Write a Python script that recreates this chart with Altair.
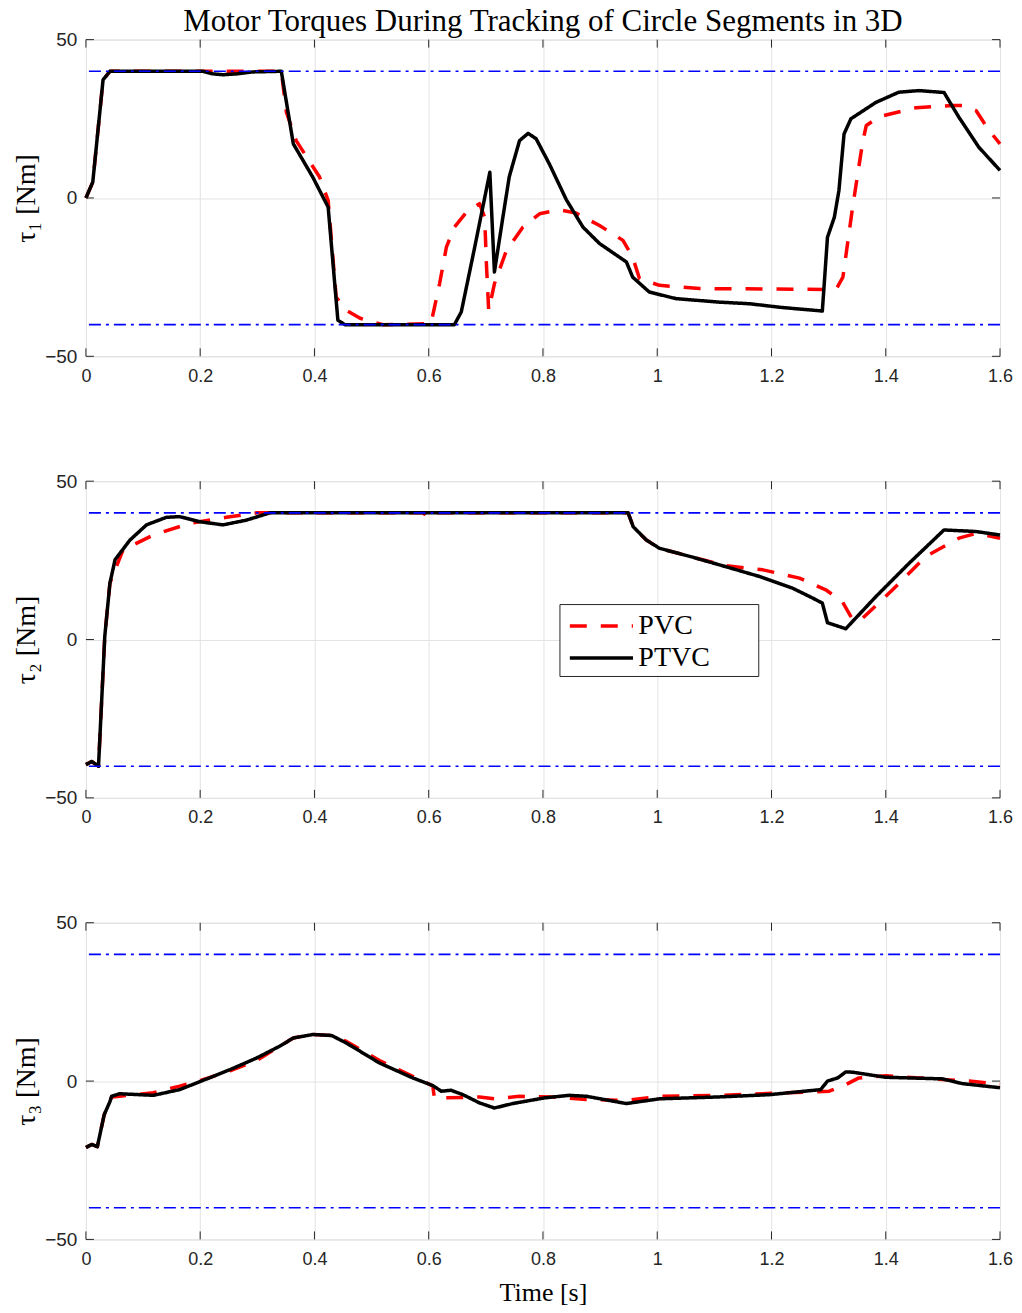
import altair as alt
import pandas as pd

# ---------------- data ----------------
t1_pvc = [0, 0.012, 0.030, 0.042, 0.205, 0.240, 0.290, 0.342, 0.351, 0.368, 0.409, 0.424, 0.438, 0.456, 0.480, 0.503, 0.520,
          0.604, 0.619, 0.631, 0.645, 0.666, 0.689, 0.698, 0.701, 0.705, 0.715, 0.736, 0.765, 0.794, 0.829, 0.858,
          0.899, 0.940, 0.957, 0.969, 1.004, 1.074, 1.313, 1.325, 1.342, 1.360, 1.366, 1.389, 1.453, 1.517, 1.534,
          1.558, 1.581, 1.600]
v1_pvc = [0, 5, 37.3, 40, 40, 40, 40, 40, 27, 18.1, 6.6, -0.8, -31.3, -35.5, -38, -39.2, -40,
          -39.7, -27.1, -15.5, -9.2, -4.5, -1.8, -6.1, -20.8, -35.5, -27.1, -16.6, -9.2, -5, -3.7, -4.8,
          -8.7, -13.4, -18.7, -25.5, -27.6, -28.6, -28.9, -25, -2.9, 18.1, 22.9, 25.7, 28.5, 29.2, 29.2,
          27.6, 21.3, 17.1]

t1_ptvc = [0, 0.012, 0.030, 0.042, 0.205, 0.222, 0.240, 0.265, 0.292, 0.342, 0.363, 0.397, 0.424, 0.441, 0.453,
           0.480, 0.645, 0.657, 0.680, 0.707, 0.715, 0.730, 0.741, 0.759, 0.774, 0.788, 0.811, 0.841, 0.870,
           0.899, 0.946, 0.957, 0.986, 1.033, 1.109, 1.161, 1.219, 1.289, 1.298, 1.310, 1.318, 1.327, 1.339,
           1.383, 1.423, 1.458, 1.502, 1.528, 1.563, 1.600]
v1_ptvc = [0, 5, 37.3, 40, 40, 39.2, 38.9, 39.2, 39.8, 40, 17.1, 6.6, -2.9, -38.6, -40,
           -40, -40, -36, -16, 8.1, -23.4, -5.9, 6.7, 18.1, 20.4, 18.7, 10.8, -0.6, -9.2,
           -14.4, -20.2, -25, -29.7, -31.8, -32.9, -33.4, -34.6, -35.7, -12.4, -6.1, 2.3, 20.2, 25,
           30.2, 33.4, 33.9, 33.3, 25.5, 16, 8.7]

t2_pvc = [0, 0.010, 0.022, 0.033, 0.042, 0.065, 0.118, 0.182, 0.246, 0.299, 0.590, 0.600, 0.610, 0.949, 0.958,
          0.981, 1.004, 1.062, 1.120, 1.185, 1.249, 1.295, 1.324, 1.342, 1.357, 1.412, 1.470, 1.528, 1.558, 1.600]
v2_pvc = [-39.5, -38.5, -40, 1, 17.8, 28.3, 33, 36.7, 38.6, 40, 40, 38.5, 40, 40, 35.6,
          31.4, 28.8, 26, 23.3, 22, 19.4, 15.7, 12, 6.3, 6.3, 15.7, 26.2, 32, 33.5, 32]

t2_ptvc = [0, 0.010, 0.022, 0.033, 0.042, 0.051, 0.077, 0.106, 0.141, 0.164, 0.199, 0.240, 0.281, 0.322, 0.949,
           0.958, 0.981, 1.004, 1.062, 1.120, 1.179, 1.237, 1.272, 1.289, 1.298, 1.330, 1.383, 1.441, 1.502,
           1.558, 1.600]
v2_ptvc = [-39.5, -38.5, -40, 1.0, 17.8, 25.2, 31.4, 36.2, 38.6, 38.8, 37.2, 36.2, 37.7, 40, 40,
           35.6, 31.4, 28.8, 26, 23, 19.9, 16.2, 13.1, 11.5, 5.3, 3.4, 13.6, 24.1, 34.6,
           34.1, 33]

t3_pvc = [0, 0.010, 0.020, 0.032, 0.045, 0.059, 0.118, 0.164, 0.202, 0.252, 0.299, 0.339, 0.363, 0.397, 0.430,
          0.456, 0.514, 0.572, 0.607, 0.610, 0.631, 0.689, 0.715, 0.759, 0.817, 0.876, 0.946, 1.004, 1.109,
          1.225, 1.301, 1.330, 1.353, 1.400, 1.499, 1.546, 1.600]
v3_pvc = [-21, -20, -20.7, -10.6, -5, -4.8, -3.7, -1.6, 0.3, 3.2, 6.5, 11, 13.6, 14.7, 14.4,
          12.5, 6.5, 1.5, -1.5, -5.3, -5.3, -5, -5.6, -4.8, -5, -5.8, -6.1, -4.8, -4.5,
          -3.7, -3.2, -1.1, 1, 1.7, 0.5, 0, -1]

t3_ptvc = [0, 0.010, 0.020, 0.032, 0.042, 0.045, 0.059, 0.118, 0.164, 0.202, 0.252, 0.299, 0.339, 0.363, 0.397,
           0.430, 0.456, 0.514, 0.572, 0.607, 0.622, 0.639, 0.660, 0.689, 0.715, 0.747, 0.803, 0.846, 0.876,
           0.946, 1.004, 1.109, 1.196, 1.286, 1.298, 1.316, 1.330, 1.342, 1.400, 1.499, 1.534, 1.600]
v3_ptvc = [-21, -20, -20.7, -10.6, -6.5, -4.8, -4.0, -4.5, -2.7, 0, 3.6, 7.3, 11, 13.6, 14.7,
           14.4, 12, 5.7, 1, -1.4, -3.2, -2.9, -4.3, -6.9, -8.5, -7.1, -5.3, -4.5, -4.8,
           -7.1, -5.6, -5, -4.3, -2.7, 0, 1, 2.9, 2.8, 1.2, 0.7, -0.8, -2.1]

limits = [-40, 40]
x_ticks = [0, 0.2, 0.4, 0.6, 0.8, 1.0, 1.2, 1.4, 1.6]
y_ticks = [-50, 0, 50]
series_names = ["PVC", "PTVC"]
series_colors = ["#ff0000", "#000000"]
series_dashes = [[17, 14], [1, 0]]
y_titles = ["τ₁ [Nm]", "τ₂ [Nm]", "τ₃ [Nm]"]
title_text = "Motor Torques During Tracking of Circle Segments in 3D"

W, H = 915, 317
SERIF = "Liberation Serif"
SANS = "Liberation Sans"
FRAME = "#262626"


def make_panel(t_pvc, v_pvc, t_ptvc, v_ptvc, ytitle, show_legend, show_xtitle, title=None):
    df = pd.concat([
        pd.DataFrame({"t": t_pvc, "v": v_pvc, "series": "PVC", "order": range(len(t_pvc))}),
        pd.DataFrame({"t": t_ptvc, "v": v_ptvc, "series": "PTVC", "order": range(len(t_ptvc))}),
    ])
    xscale = alt.Scale(domain=[0, 1.6], nice=False, zero=False)
    yscale = alt.Scale(domain=[-50, 50], nice=False)
    xaxis = alt.Axis(values=x_ticks, format="~g", labelFlush=False,
                     title="Time [s]" if show_xtitle else None, grid=True, gridColor="#e3e3e3",
                     ticks=False, domain=False, labelFont=SANS, labelFontSize=18, labelColor="#262626",
                     labelPadding=11, titleFont=SERIF, titleFontSize=26, titleFontWeight="normal",
                     titleColor="#000000", titlePadding=11)
    yaxis = alt.Axis(values=y_ticks, title=ytitle, labelFlush=False, grid=True, gridColor="#e3e3e3",
                     ticks=False, domain=False, labelFont=SANS, labelFontSize=19, labelColor="#262626",
                     labelPadding=9, titleFont=SERIF, titleFontSize=28, titleFontWeight="normal",
                     titleColor="#000000", titlePadding=4)
    if show_legend:
        legend = alt.Legend(title="\u00a0", titleOrient="right", titlePadding=44, titleFontSize=8,
                            orient="none", legendX=474, legendY=123, labelFont=SERIF,
                            labelFontSize=28, labelColor="#000000", symbolType="M-2,0L2,0", symbolSize=1000,
                            symbolStrokeWidth=3.5, symbolOffset=20, fillColor="white", strokeColor="#262626",
                            padding=4, rowPadding=0, labelOffset=19, labelLimit=400)
    else:
        legend = None
    lines = alt.Chart(df).mark_line(strokeWidth=3.5, strokeCap="butt", strokeJoin="round").encode(
        x=alt.X("t:Q", scale=xscale, axis=xaxis),
        y=alt.Y("v:Q", scale=yscale, axis=yaxis),
        color=alt.Color("series:N", scale=alt.Scale(domain=series_names, range=series_colors), legend=legend),
        strokeDash=alt.StrokeDash("series:N", scale=alt.Scale(domain=series_names, range=series_dashes),
                                  legend=legend),
        order="order:Q",
        detail="series:N",
    )
    lim = alt.Chart(pd.DataFrame({"y": limits})).mark_rule(color="#0000ff", strokeWidth=1.6,
                                                           strokeDash=[12, 5, 3, 5]).encode(
        y=alt.Y("y:Q", scale=yscale))
    xt = pd.DataFrame({"x": x_ticks})
    yt = pd.DataFrame({"y": y_ticks})
    tick_top = alt.Chart(xt).mark_rule(color=FRAME, strokeWidth=1).encode(
        x=alt.X("x:Q", scale=xscale), y=alt.value(0), y2=alt.value(8))
    tick_bot = alt.Chart(xt).mark_rule(color=FRAME, strokeWidth=1).encode(
        x=alt.X("x:Q", scale=xscale), y=alt.value(H - 8), y2=alt.value(H))
    tick_left = alt.Chart(yt).mark_rule(color=FRAME, strokeWidth=1).encode(
        y=alt.Y("y:Q", scale=yscale), x=alt.value(0), x2=alt.value(8))
    tick_right = alt.Chart(yt).mark_rule(color=FRAME, strokeWidth=1).encode(
        y=alt.Y("y:Q", scale=yscale), x=alt.value(W - 8), x2=alt.value(W))
    layers = [lines, lim, tick_top, tick_bot, tick_left, tick_right]
    if title is not None:
        ttl = alt.Chart(pd.DataFrame({"title": [title]})).mark_text(
            font=SERIF, fontSize=31, color="#000000", align="center", baseline="alphabetic").encode(
            text="title:N", x=alt.value(W / 2), y=alt.value(-9))
        layers.append(ttl)
    layer = alt.layer(*layers).resolve_scale(color="independent", strokeDash="independent")
    return layer.properties(width=W, height=H)


p1 = make_panel(t1_pvc, v1_pvc, t1_ptvc, v1_ptvc, y_titles[0], False, False, title=title_text)
p2 = make_panel(t2_pvc, v2_pvc, t2_ptvc, v2_ptvc, y_titles[1], True, False)
p3 = make_panel(t3_pvc, v3_pvc, t3_ptvc, v3_ptvc, y_titles[2], False, True)

chart = alt.vconcat(p1, p2, p3, spacing=85).resolve_scale(
    color="independent", strokeDash="independent").properties(
    padding={"left": 4, "top": -4, "right": 0, "bottom": 0}).configure_view(
    stroke=FRAME, strokeWidth=1.2).configure(background="white")

chart.save("out.html", embed_options={"renderer": "svg", "actions": False})
